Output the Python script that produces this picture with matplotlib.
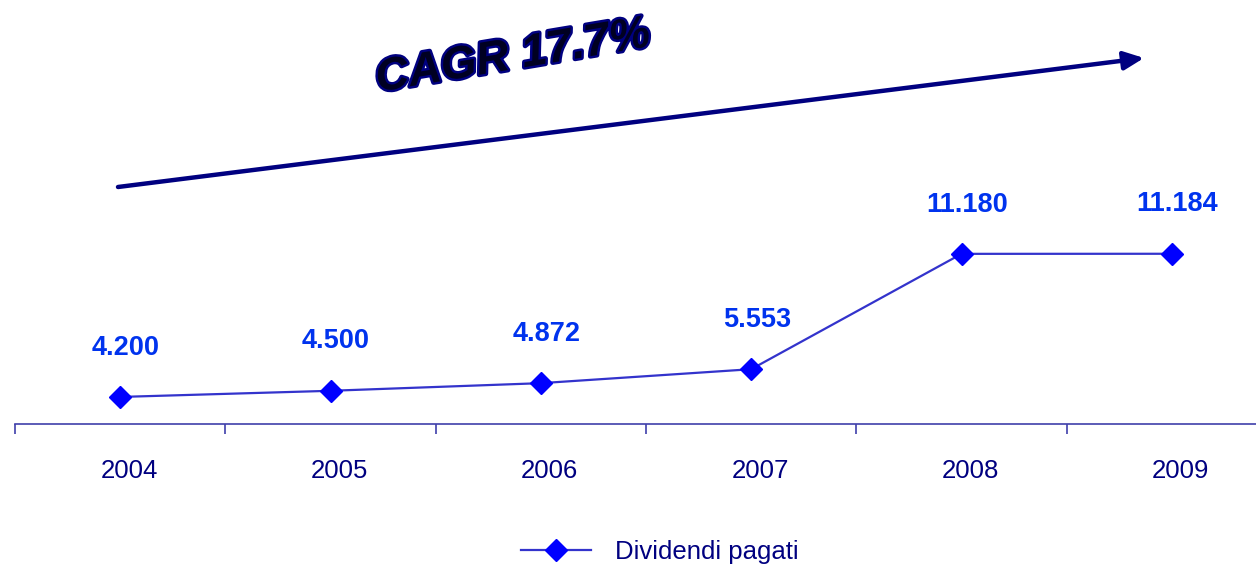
import matplotlib
matplotlib.use("Agg")
import matplotlib.pyplot as plt
import matplotlib.patheffects as pe
import matplotlib.transforms as mtransforms

years = ["2004", "2005", "2006", "2007", "2008", "2009"]
dividends = [4.200, 4.500, 4.872, 5.553, 11.180, 11.184]
value_labels = ["4.200", "4.500", "4.872", "5.553", "11.180", "11.184"]
series_name = "Dividendi pagati"
cagr_text = "CAGR 17.7%"

plt.rcParams['font.family'] = ['Liberation Sans', 'DejaVu Sans']

W, H = 1256, 569
fig = plt.figure(figsize=(W / 100, H / 100), dpi=100)
ax = fig.add_axes([15 / W, (H - 424) / H, (W - 15) / W, 424 / H])

x = list(range(len(years)))
ax.plot(x, dividends, color='#3333CC', lw=1.6, marker='D', markersize=11.5,
        markerfacecolor='#0000FF', markeredgecolor='#0000FF', label=series_name)

for xi, v, lab in zip(x, dividends, value_labels):
    ax.annotate(lab, (xi, v), xytext=(4, 35.5), textcoords='offset points',
                ha='center', va='center', fontsize=19.5, fontweight='bold', color='#0033EE')

for s in ['top', 'right', 'left']:
    ax.spines[s].set_visible(False)
ax.spines['bottom'].set_color('#4040AA')
ax.spines['bottom'].set_linewidth(1.2)
ax.set_yticks([])
ax.set_xticks(x)
ax.set_xticklabels(years, fontsize=18.5, color='#000080')
ax.tick_params(axis='x', which='major', length=0, pad=25)
shift = mtransforms.ScaledTranslation(9 / 100, 0, fig.dpi_scale_trans)
for lbl in ax.get_xticklabels():
    lbl.set_transform(lbl.get_transform() + shift)
ax.set_xticks([i - 0.5 for i in range(len(years) + 1)], minor=True)
ax.tick_params(axis='x', which='minor', length=7, width=1.2, color='#4040AA', direction='out')

ax.set_xlim(-0.5, 5.4)
ax.set_ylim(2.88, 2.88 + 424 / 20.5)

# CAGR arrow and text
ax.annotate('', xy=(1144, H - 58), xytext=(118, H - 187),
            xycoords='figure pixels', textcoords='figure pixels',
            arrowprops=dict(arrowstyle='-|>,head_length=1.2,head_width=0.55',
                            color='#000080', lw=3.2, shrinkA=0, shrinkB=0),
            annotation_clip=False)
fig.text(513 / W, (H - 57) / H, cagr_text, fontsize=33, fontweight='bold', fontstyle='italic',
         color='#000022', rotation=9.5, rotation_mode='anchor', ha='center', va='center',
         path_effects=[pe.withStroke(linewidth=3.5, foreground='#000080')])

fig.legend(loc='center', bbox_to_anchor=(660 / W, (H - 552) / H), frameon=False,
           fontsize=18.5, handlelength=2.7, handletextpad=0.95, labelcolor='#000080')

fig.savefig('out.png', dpi=100)
